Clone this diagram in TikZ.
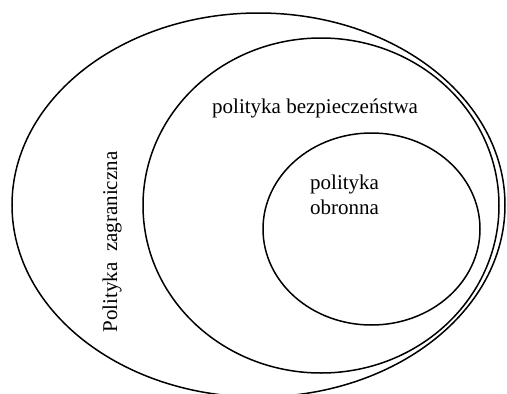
\documentclass[tikz,border=0pt]{standalone}
\usepackage{fontspec}
\setmainfont{Liberation Serif}
\usetikzlibrary{shapes.geometric}
\begin{document}
\begin{tikzpicture}[x=1pt,y=-1pt,
  set/.style={ellipse,draw,line width=1.5pt,inner sep=0pt,outer sep=0pt},
  lab/.style={inner sep=0pt,font=\fontsize{21}{25}\selectfont}]
\useasboundingbox (0,0) rectangle (507,394);
\node[set,minimum width=493pt,minimum height=384pt] (outer) at (258.5,205) {};
\node[set,minimum width=356pt,minimum height=335pt] (middle) at (321,205.5) {};
\node[set,minimum width=217pt,minimum height=192pt] (inner) at (371.5,229) {};
\node[lab,anchor=base west] (sec) at (212,113) {polityka bezpiecze\'nstwa};
\node[lab,anchor=base west,align=left] (def) at (310,214) {polityka\\obronna};
\node[lab,rotate=90] (for) at (112,242) {Polityka\ \ zagraniczna};
\end{tikzpicture}
\end{document}
